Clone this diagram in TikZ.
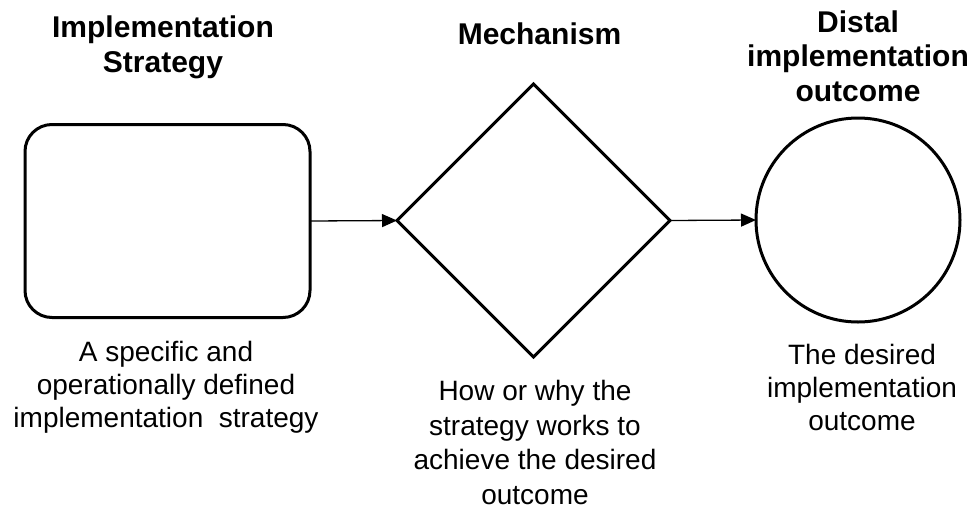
\documentclass[tikz,border=0pt]{standalone}
\usepackage{fontspec}
\setmainfont{Liberation Sans}
\usetikzlibrary{shapes.geometric,arrows.meta}

\tikzset{
  shapeborder/.style={draw=black, line width=3pt, inner sep=0pt, outer sep=0pt},
  flowarrow/.style={draw=black, line width=1.3pt, -{Triangle[length=15pt,width=13pt]}},
  % multi-line nodes anchored at the baseline of their last line
  headtext/.style={font=\fontsize{30pt}{34.5pt}\selectfont\bfseries, align=center, anchor=base, inner sep=0pt},
  notetext/.style={font=\fontsize{28pt}{33pt}\selectfont, align=center, anchor=base, inner sep=0pt},
}

\begin{document}
\begin{tikzpicture}[x=1pt, y=-1pt]
  \useasboundingbox (0,0) rectangle (972,512);

  % the three stages
  \node[shapeborder, rectangle, rounded corners=27pt,
        minimum width=285pt, minimum height=193pt] (strategy) at (167.5,221) {};
  \node[shapeborder, diamond, aspect=1,
        minimum width=273pt, minimum height=273pt] (mechanism) at (533.5,220.5) {};
  \node[shapeborder, circle, minimum size=204pt] (outcome) at (858,220) {};

  % connectors
  \draw[flowarrow] (strategy.east) -- (mechanism.west);
  \draw[flowarrow] (mechanism.east) -- (outcome.west);

  % headings
  \node[headtext] (strategyhead) at (163,72) {Implementation\\Strategy};
  \node[headtext] (mechanismhead) at (539.5,44) {Mechanism};
  \node[headtext] (outcomehead) at (858,101) {Distal\\implementation\\outcome};

  % descriptions
  \node[notetext] (strategynote) at (166,427)
    {A specific and\\operationally defined\\implementation\ \ strategy};
  \node[notetext, font=\fontsize{28pt}{34.5pt}\selectfont] (mechanismnote) at (535,504)
    {How or why the\\strategy works to\\achieve the desired\\outcome};
  \node[notetext] (outcomenote) at (862,430)
    {The desired\\implementation\\outcome};
\end{tikzpicture}
\end{document}
